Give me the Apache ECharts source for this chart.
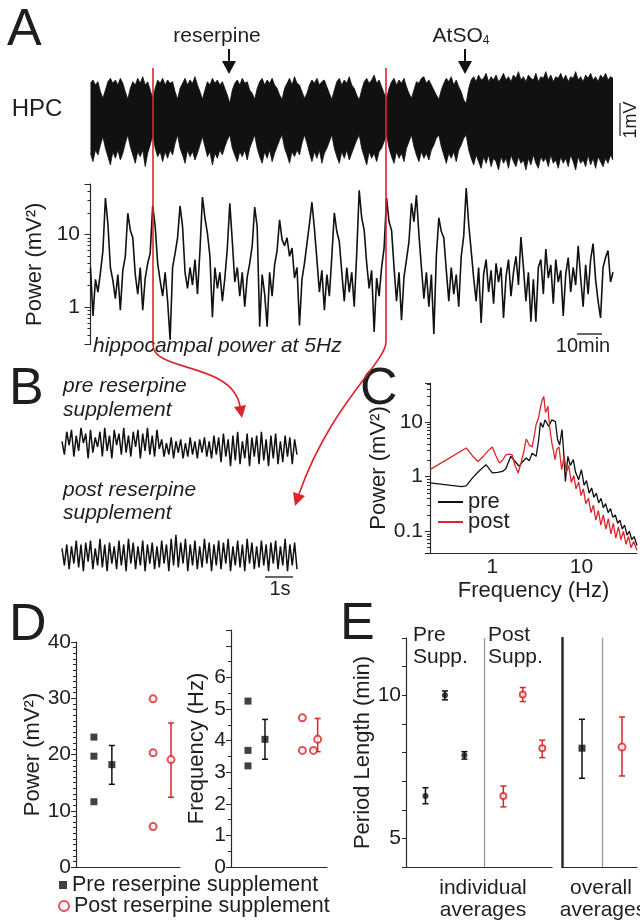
<!DOCTYPE html>
<html><head><meta charset="utf-8">
<script src="https://cdn.jsdelivr.net/npm/echarts@6/dist/echarts.min.js"></script>
<style>html,body{margin:0;padding:0;background:#fff}#c{width:640px;height:922px}</style>
</head><body><div id="c"></div>
<script>
// ---------------- DATA ----------------
// Panel A: HPC raw trace amplitude envelope (mV), one value per minute, 0..210 min
const hpcUpper = [
1.10,1.20,1.05,1.15,0.85,0.65,0.90,1.15,1.25,1.10,
1.20,1.05,1.25,1.10,0.85,0.62,0.95,1.15,1.05,1.25,
1.10,1.30,1.05,1.15,0.90,0.65,0.95,1.20,1.10,1.25,
1.05,1.20,1.10,1.15,0.85,0.62,0.95,1.10,1.25,1.05,
1.20,1.10,1.30,1.05,0.85,0.62,0.90,1.15,1.05,1.25,
1.10,1.20,1.05,1.15,0.95,0.75,0.50,0.90,1.10,1.20,
1.05,1.25,1.10,1.15,0.90,0.80,0.62,0.95,1.15,1.25,
1.05,1.20,1.10,1.25,1.05,0.95,0.75,0.62,0.95,1.10,
1.25,1.05,1.30,1.10,1.05,0.85,0.65,0.80,1.05,1.20,
1.10,1.25,1.05,1.15,1.20,1.00,0.80,0.62,0.90,1.15,
1.25,1.05,1.20,1.10,1.30,1.05,0.95,0.75,0.60,0.90,
1.15,1.25,1.10,1.20,1.35,1.10,1.20,1.00,0.80,0.65,
0.95,1.15,1.25,1.05,1.20,1.10,1.25,1.00,0.80,0.65,
0.90,1.15,1.10,1.25,1.30,1.10,1.20,1.05,0.90,0.75,
0.62,0.90,1.10,1.25,1.15,1.30,1.05,1.20,1.00,0.85,
0.60,0.50,0.95,1.20,1.30,1.15,1.35,1.20,1.25,1.40,
1.15,1.30,1.20,1.35,1.15,1.25,1.40,1.20,1.30,1.15,
1.35,1.25,1.45,1.20,1.30,1.15,1.35,1.25,1.20,1.40,
1.15,1.30,1.25,1.45,1.20,1.35,1.15,1.30,1.25,1.40,
1.20,1.35,1.15,1.30,1.25,1.45,1.20,1.30,1.15,1.35,
1.25,1.40,1.20,1.30,1.15,1.35,1.25,1.40,1.20,1.30,
1.25];
const hpcLower = [
-1.00,-1.25,-0.90,-1.05,-0.75,-0.50,-0.85,-1.10,-1.35,-0.95,
-1.15,-0.90,-1.20,-1.00,-0.70,-0.45,-0.80,-1.05,-1.30,-0.95,
-1.10,-0.90,-1.40,-1.00,-0.75,-0.45,-0.85,-1.10,-0.95,-1.25,
-0.95,-1.15,-0.90,-1.05,-0.70,-0.45,-0.85,-1.05,-1.30,-0.90,
-1.10,-0.95,-1.20,-1.00,-0.75,-0.50,-0.80,-1.10,-0.95,-1.35,
-1.00,-1.15,-0.90,-1.05,-0.80,-0.60,-0.45,-0.85,-1.05,-1.25,
-0.95,-1.10,-0.90,-1.20,-0.85,-0.65,-0.45,-0.85,-1.10,-1.30,
-0.95,-1.15,-0.90,-1.25,-1.00,-0.80,-0.60,-0.45,-0.85,-1.05,
-1.30,-0.95,-1.10,-0.90,-1.05,-0.70,-0.45,-0.70,-1.00,-1.25,
-0.95,-1.15,-0.90,-1.30,-1.00,-0.85,-0.65,-0.45,-0.85,-1.10,
-1.30,-0.95,-1.15,-0.90,-1.20,-1.00,-0.80,-0.60,-0.45,-0.85,
-1.10,-1.35,-0.95,-1.15,-1.00,-1.25,-0.95,-0.85,-0.65,-0.45,
-0.85,-1.10,-1.30,-0.95,-1.15,-1.00,-1.25,-0.85,-0.65,-0.45,
-0.80,-1.05,-1.25,-0.95,-1.15,-1.00,-1.20,-0.90,-0.75,-0.55,
-0.45,-0.80,-1.05,-1.30,-1.00,-1.15,-0.95,-1.25,-0.90,-0.75,
-0.55,-0.45,-0.90,-1.15,-1.35,-1.05,-1.25,-1.45,-1.10,-1.30,
-1.05,-1.40,-1.15,-1.25,-1.50,-1.10,-1.30,-1.15,-1.45,-1.05,
-1.25,-1.40,-1.10,-1.30,-1.20,-1.50,-1.15,-1.35,-1.05,-1.30,
-1.45,-1.10,-1.25,-1.15,-1.40,-1.05,-1.30,-1.20,-1.45,-1.10,
-1.30,-1.15,-1.40,-1.05,-1.25,-1.50,-1.10,-1.30,-1.20,-1.40,
-1.05,-1.35,-1.15,-1.45,-1.10,-1.25,-1.40,-1.15,-1.30,-1.05,
-1.20];
// Panel A: hippocampal power at 5 Hz (mV^2), one value per minute, 0..210 min
const power5Hz = [
3.5,0.75,2.4,1.6,3.0,6.0,32,14,3.5,2.3,
1.3,2.8,0.9,3.2,5.0,19.7,11.5,9.0,2.8,1.5,
3.5,0.9,2.5,4.0,5.5,25,13,4.0,2.3,1.4,
3.0,1.2,0.35,3.5,5.5,9.0,25,13,3.0,1.8,
3.5,2.0,4.5,1.5,6.0,33,17,10.4,5.0,0.72,
3.5,1.8,3.0,1.2,2.5,6.5,27,8.0,2.2,3.5,
1.4,3.0,1.0,2.6,4.0,7.0,24,12.7,0.53,2.8,
1.5,0.53,3.0,1.4,3.8,6.0,16,8.5,7.0,9.0,
5.0,6.5,2.5,3.5,0.55,2.4,4.0,7.5,14,28,
12,4.5,1.6,3.2,0.9,2.8,1.4,5.0,20,11,
8.0,3.0,1.2,3.5,1.6,3.0,1.0,5.5,41,17,
11.5,4.0,1.8,3.2,0.45,2.5,1.4,3.5,6.5,32,
15,11.5,3.5,1.2,3.0,0.65,2.6,4.5,8.0,27,
15,35,10,3.5,1.3,3.0,1.0,2.8,0.42,5.0,
17,11,9.0,3.2,1.2,3.5,1.5,2.8,1.0,5.0,
9.5,44,14,6.0,2.5,1.2,3.5,0.6,2.8,4.5,
1.6,3.2,1.1,4.0,2.2,3.5,0.7,2.6,4.5,1.4,
3.0,5.0,2.0,9.2,3.5,1.2,3.0,0.62,2.4,0.62,
3.5,4.5,1.5,6.3,2.5,3.8,1.1,4.5,2.2,3.2,
0.75,2.8,4.8,1.6,3.5,2.0,7.0,2.5,1.0,3.8,
1.5,4.5,7.5,2.4,1.2,0.7,3.5,4.8,6.0,2.2,
3.0];
// Panel B: example LFP traces (arbitrary units)
const tracePre = [
0.3,-0.4,0.8,0.1,0.9,-0.5,0.6,-0.2,1.0,0.2,0.7,-0.6,0.9,-0.3,0.5,0.0,0.8,-0.5,1.0,-0.2,
0.6,-0.6,0.9,0.1,0.7,-0.4,1.0,-0.3,0.6,-0.5,0.8,0.0,0.9,-0.6,0.7,-0.2,1.0,-0.4,0.6,-0.5,
0.9,-0.1,0.4,-0.5,0.2,-0.4,0.5,-0.6,0.3,-0.3,0.4,-0.6,0.2,-0.5,0.5,-0.4,0.3,-0.6,0.4,-0.3,
0.5,-0.5,0.3,-0.6,0.6,-0.4,0.5,-0.8,0.7,-0.5,0.4,-1.0,0.6,-0.7,0.8,-0.9,0.3,-0.6,0.7,-1.0,
0.5,-0.5,0.6,-0.9,0.8,-0.7,0.4,-1.0,0.6,-0.6,0.7,-0.9,0.3,-0.8,0.6,-0.5,0.5,-0.9,0.4,-0.4];
const tracePost = [
0.3,-0.6,0.5,-0.8,0.4,-0.5,0.7,-0.7,0.5,-0.9,0.6,-0.4,0.7,-0.8,0.3,-0.6,0.8,-0.7,0.5,-0.9,
0.6,-0.5,0.4,-0.8,0.7,-0.6,0.5,-0.9,0.8,-0.5,0.6,-0.8,0.4,-0.6,0.7,-0.9,0.5,-0.5,0.6,-0.8,
0.4,-0.7,0.7,-0.5,0.5,-0.9,0.8,-0.6,1.0,-0.7,0.6,-0.5,0.8,-0.9,0.5,-0.6,0.7,-0.8,0.4,-0.7,
0.8,-0.5,0.6,-0.9,0.5,-0.6,0.7,-0.8,0.6,-0.5,0.8,-0.9,0.4,-0.6,0.7,-0.7,0.5,-0.9,0.8,-0.5,
0.6,-0.8,0.4,-0.7,0.7,-0.6,0.5,-0.9,0.6,-0.5,0.7,-0.8,0.4,-0.6,0.8,-0.9,0.5,-0.6,0.6,-0.8];
// Panel C: power spectra
const specPreFreq = [0.2,0.45,0.51,0.6,0.72,0.85,1.0,1.15,1.3,1.42,1.61,1.8,2.0,2.2,2.4,2.6,2.8,3.1,3.3,3.47,3.7,3.9,4.1,4.3,4.5,4.65,4.85,5.1,5.4,5.7,6.05,6.3,6.6,7.05,7.5,8.1,8.6,9.3,10,10.7,11.4,12.2,13,13.8,14.7,15.6,16.6,17.6,18.7,19.9,21.2,22.5,24,25.5,27,28.7,30.5,32.5,34.5,36.7,39,42];
const specPrePow  = [0.77,0.66,0.68,0.95,1.3,1.66,1.17,1.2,1.25,1.4,2.36,1.9,1.55,1.9,2.2,1.95,2.7,2.36,4.5,9.8,8.0,11,9.5,8.3,9.0,11,10.4,10.2,4.8,3.8,7.3,3.0,0.82,2.36,1.6,2.05,1.2,0.88,1.35,0.7,0.85,0.5,0.62,0.42,0.5,0.33,0.4,0.27,0.32,0.22,0.26,0.18,0.2,0.14,0.16,0.11,0.13,0.085,0.1,0.07,0.08,0.055];
const specPostFreq = [0.2,0.51,0.6,0.69,0.8,0.9,1.0,1.1,1.2,1.3,1.42,1.55,1.67,1.8,1.95,2.1,2.25,2.4,2.6,2.8,2.95,3.1,3.3,3.5,3.65,3.78,3.95,4.1,4.2,4.4,4.65,4.85,5.05,5.3,5.6,6.0,6.4,6.8,7.2,7.7,8.2,8.7,9.3,9.9,10.5,11.2,12,12.8,13.6,14.5,15.5,16.5,17.6,18.8,20,21.4,22.8,24.3,26,27.7,29.6,31.6,33.7,36,38.5,42];
const specPostPow  = [1.35,3.35,2.4,1.9,2.4,3.0,3.5,2.4,1.78,2.0,2.5,2.6,2.5,1.6,1.17,1.8,2.8,4.9,3.8,3.5,5.5,9.0,12,20,26,29.5,15,17,19.5,8.0,4.2,3.0,2.05,3.2,3.5,1.35,2.4,1.2,1.6,0.78,1.05,0.6,0.8,0.45,0.6,0.32,0.4,0.22,0.3,0.16,0.24,0.13,0.2,0.11,0.17,0.09,0.14,0.075,0.12,0.07,0.1,0.058,0.08,0.05,0.065,0.045];
// Panel D: per-animal values, mean and error limits
const dPowerPre = [23.1, 19.7, 11.6];
const dPowerPost = [29.9, 20.3, 7.2];
const dPowerMean = [18.2, 19.1];
const dPowerLo = [14.7, 12.4];
const dPowerHi = [21.6, 25.6];
const dFreqPre = [5.25, 3.69, 3.2];
const dFreqPost = [4.72, 3.69, 3.69];
const dFreqMean = [4.04, 4.04];
const dFreqLo = [3.41, 3.65];
const dFreqHi = [4.67, 4.70];
// Panel E: period length (min)
const ePreMean = [6.48, 10.0, 7.90];
const ePreLo = [6.21, 9.84, 7.77];
const ePreHi = [6.77, 10.15, 8.03];
const ePostMean = [6.48, 10.03, 8.15];
const ePostLo = [6.10, 9.78, 7.82];
const ePostHi = [6.83, 10.27, 8.43];
const eOverallMean = [8.15, 8.19];
const eOverallLo = [7.10, 7.18];
const eOverallHi = [9.16, 9.24];
const legendNames = ['Pre reserpine supplement', 'Post reserpine supplement'];

// ---------------- LAYOUT / STYLE ----------------
const FONT = "'Liberation Sans', Arial, Helvetica, sans-serif";
const RED = '#d8262c', AX = '#2a2a2a', TXT = '#1e1e1e';
const posD1 = {pre: 1, preMean: 2, post: [4.3, 4.3, 4.3], postMean: 5.3};
const posD2 = {pre: 1, preMean: 2, post: [4.2, 4.2, 4.85], postMean: 5.1};
const posE = {pre: [1, 2, 3], post: [5, 6, 7], sep: 4};
const posE2 = {pre: 1, post: 3, sep: 2};

function logFmt(v){ const l = Math.log10(v); return Math.abs(l - Math.round(l)) < 1e-6 ? String(+v.toPrecision(3)) : ''; }
function errSeries(xi, data, color, cap){
  return {type:'custom', xAxisIndex:xi, yAxisIndex:xi, data:data, silent:true, z:3,
    encode:{x:0, y:[1,2]},
    renderItem: function(params, api){
      const x = api.value(0), lo = api.value(1), hi = api.value(2);
      const a = api.coord([x, hi]), b = api.coord([x, lo]);
      const st = {stroke:color, lineWidth:1.5};
      return {type:'group', children:[
        {type:'line', shape:{x1:a[0], y1:a[1], x2:b[0], y2:b[1]}, style:st},
        {type:'line', shape:{x1:a[0]-cap, y1:a[1], x2:a[0]+cap, y2:a[1]}, style:st},
        {type:'line', shape:{x1:b[0]-cap, y1:b[1], x2:b[0]+cap, y2:b[1]}, style:st}]};
    }};
}
const lbl = (size, margin) => ({fontSize:size, color:TXT, fontFamily:FONT, margin:margin});
const nameStyle = {fontSize:22, color:TXT, fontFamily:FONT};
const axLine = w => ({show:true, lineStyle:{color:AX, width:w||1.2}});
const noSplit = {show:false};

const xAxes = [
  {gridIndex:0, type:'value', min:-1, max:210, show:false},
  {gridIndex:1, type:'value', min:-1, max:210, show:false},
  {gridIndex:2, type:'category', boundaryGap:false, show:false, data:tracePre.map((v,i)=>i)},
  {gridIndex:3, type:'category', boundaryGap:false, show:false, data:tracePost.map((v,i)=>i)},
  {gridIndex:4, type:'log', logBase:10, min:0.2, max:42, axisLine:axLine(), axisTick:{show:false},
   splitLine:noSplit, axisLabel:Object.assign(lbl(21,4), {formatter:logFmt}),
   name:'Frequency (Hz)', nameLocation:'middle', nameGap:27, nameTextStyle:nameStyle},
  {gridIndex:5, type:'value', min:0, max:5.8, axisLine:axLine(), axisTick:{show:false}, axisLabel:{show:false}, splitLine:noSplit},
  {gridIndex:6, type:'value', min:0, max:5.65, axisLine:axLine(), axisTick:{show:false}, axisLabel:{show:false}, splitLine:noSplit},
  {gridIndex:7, type:'value', min:0, max:7.5, axisLine:axLine(), axisTick:{show:false}, axisLabel:{show:false}, splitLine:noSplit},
  {gridIndex:8, type:'value', min:0, max:3.75, axisLine:axLine(), axisTick:{show:false}, axisLabel:{show:false}, splitLine:noSplit}
];
const yAxes = [
  {gridIndex:0, type:'value', min:-1.6, max:1.5, show:false},
  {gridIndex:1, type:'log', logBase:10, min:0.3, max:50, axisLine:axLine(),
   axisTick:{show:true, length:6, lineStyle:{color:AX}},
   minorTick:{show:true, splitNumber:9, length:3, lineStyle:{color:AX}},
   splitLine:noSplit, minorSplitLine:noSplit,
   axisLabel:Object.assign(lbl(21,8), {formatter:logFmt}),
   name:'Power (mV²)', nameLocation:'middle', nameRotate:90, nameGap:40, nameTextStyle:nameStyle},
  {gridIndex:2, type:'value', min:-1.1, max:1.1, show:false},
  {gridIndex:3, type:'value', min:-1.1, max:1.1, show:false},
  {gridIndex:4, type:'log', logBase:10, min:0.04, max:52, axisLine:axLine(),
   axisTick:{show:true, length:5, lineStyle:{color:AX}},
   minorTick:{show:true, splitNumber:9, length:3, lineStyle:{color:AX}},
   splitLine:noSplit, minorSplitLine:noSplit,
   axisLabel:Object.assign(lbl(21,7), {formatter:logFmt}),
   name:'Power (mV²)', nameLocation:'middle', nameRotate:90, nameGap:29, nameTextStyle:nameStyle},
  {gridIndex:5, type:'value', min:0, max:40, interval:10, axisLine:axLine(),
   axisTick:{show:true, length:5, lineStyle:{color:AX}},
   minorTick:{show:true, splitNumber:10, length:3, lineStyle:{color:AX}},
   splitLine:noSplit, minorSplitLine:noSplit, axisLabel:lbl(21,5),
   name:'Power (mV²)', nameLocation:'middle', nameRotate:90, nameGap:32, nameTextStyle:nameStyle},
  {gridIndex:6, type:'value', min:0, max:7.5, interval:1, axisLine:axLine(),
   axisTick:{show:true, length:5, lineStyle:{color:AX}},
   minorTick:{show:true, splitNumber:2, length:3, lineStyle:{color:AX}},
   splitLine:noSplit, minorSplitLine:noSplit,
   axisLabel:Object.assign(lbl(21,5), {formatter: v => v <= 6 ? String(v) : ''}),
   name:'Frequency (Hz)', nameLocation:'middle', nameRotate:90, nameGap:23, nameTextStyle:nameStyle},
  {gridIndex:7, type:'value', min:4, max:12, interval:1, axisLine:axLine(),
   axisTick:{show:true, length:4, lineStyle:{color:AX}},
   splitLine:noSplit,
   axisLabel:Object.assign(lbl(21,5), {formatter: v => (v === 5 || v === 10) ? String(v) : ''}),
   name:'Period Length (min)', nameLocation:'middle', nameRotate:90, nameGap:32, nameTextStyle:nameStyle},
  {gridIndex:8, type:'value', min:4, max:12, axisLine:axLine(2.5), axisTick:{show:false}, axisLabel:{show:false}, splitLine:noSplit}
];

const blackLine = w => ({color:'#111', width:w});
const series = [
  {type:'line', xAxisIndex:0, yAxisIndex:0, data:hpcUpper.map((v,i)=>[i,v]), symbol:'none', silent:true,
   lineStyle:blackLine(0.8), areaStyle:{color:'#111', opacity:1}},
  {type:'line', xAxisIndex:0, yAxisIndex:0, data:hpcLower.map((v,i)=>[i,v]), symbol:'none', silent:true,
   lineStyle:blackLine(0.8), areaStyle:{color:'#111', opacity:1}},
  {type:'line', xAxisIndex:1, yAxisIndex:1, data:power5Hz.map((v,i)=>[i,v]), symbol:'none', silent:true, lineStyle:blackLine(1.6)},
  {type:'line', xAxisIndex:2, yAxisIndex:2, data:tracePre, symbol:'none', silent:true, lineStyle:blackLine(1.5)},
  {type:'line', xAxisIndex:3, yAxisIndex:3, data:tracePost, symbol:'none', silent:true, lineStyle:blackLine(1.5)},
  {name:'pre', type:'line', xAxisIndex:4, yAxisIndex:4, data:specPreFreq.map((f,i)=>[f,specPrePow[i]]), symbol:'none', silent:true,
   color:'#111', lineStyle:blackLine(1.3), z:2},
  {name:'post', type:'line', xAxisIndex:4, yAxisIndex:4, data:specPostFreq.map((f,i)=>[f,specPostPow[i]]), symbol:'none', silent:true,
   color:RED, lineStyle:{color:RED, width:1.3}, z:3},
  // D: power
  {name:legendNames[0], type:'scatter', xAxisIndex:5, yAxisIndex:5, symbol:'rect', symbolSize:7, color:'#111', silent:true,
   data:dPowerPre.map(v=>[posD1.pre, v]).concat([[posD1.preMean, dPowerMean[0]]]), z:4},
  errSeries(5, [[posD1.preMean, dPowerLo[0], dPowerHi[0]]], '#111', 3),
  {name:legendNames[1], type:'scatter', xAxisIndex:5, yAxisIndex:5, symbol:'emptyCircle', symbolSize:7, color:RED, silent:true,
   itemStyle:{color:RED, borderColor:RED, borderWidth:1.5},
   data:dPowerPost.map((v,i)=>[posD1.post[i], v]).concat([[posD1.postMean, dPowerMean[1]]]), z:4},
  errSeries(5, [[posD1.postMean, dPowerLo[1], dPowerHi[1]]], RED, 3),
  // D: frequency
  {name:legendNames[0], type:'scatter', xAxisIndex:6, yAxisIndex:6, symbol:'rect', symbolSize:7, color:'#111', silent:true,
   data:dFreqPre.map(v=>[posD2.pre, v]).concat([[posD2.preMean, dFreqMean[0]]]), z:4},
  errSeries(6, [[posD2.preMean, dFreqLo[0], dFreqHi[0]]], '#111', 3),
  {name:legendNames[1], type:'scatter', xAxisIndex:6, yAxisIndex:6, symbol:'emptyCircle', symbolSize:7, color:RED, silent:true,
   itemStyle:{color:RED, borderColor:RED, borderWidth:1.5},
   data:dFreqPost.map((v,i)=>[posD2.post[i], v]).concat([[posD2.postMean, dFreqMean[1]]]), z:4},
  errSeries(6, [[posD2.postMean, dFreqLo[1], dFreqHi[1]]], RED, 3),
  // E: individual averages
  errSeries(7, ePreMean.map((v,i)=>[posE.pre[i], ePreLo[i], ePreHi[i]]), '#111', 3),
  {type:'scatter', xAxisIndex:7, yAxisIndex:7, symbol:'circle', symbolSize:6, color:'#111', silent:true, z:4,
   data:ePreMean.map((v,i)=>[posE.pre[i], v]),
   markLine:{silent:true, symbol:'none', label:{show:false}, lineStyle:{color:'#9a9a9a', width:1.3, type:'solid'}, data:[{xAxis:posE.sep}]}},
  errSeries(7, ePostMean.map((v,i)=>[posE.post[i], ePostLo[i], ePostHi[i]]), RED, 3),
  {type:'scatter', xAxisIndex:7, yAxisIndex:7, symbol:'emptyCircle', symbolSize:6, color:RED, silent:true, z:4,
   itemStyle:{color:RED, borderColor:RED, borderWidth:1.5},
   data:ePostMean.map((v,i)=>[posE.post[i], v])},
  // E: overall averages
  errSeries(8, [[posE2.pre, eOverallLo[0], eOverallHi[0]]], '#111', 3),
  {type:'scatter', xAxisIndex:8, yAxisIndex:8, symbol:'rect', symbolSize:7, color:'#111', silent:true, z:4,
   data:[[posE2.pre, eOverallMean[0]]],
   markLine:{silent:true, symbol:'none', label:{show:false}, lineStyle:{color:'#9a9a9a', width:1.3, type:'solid'}, data:[{xAxis:posE2.sep}]}},
  errSeries(8, [[posE2.post, eOverallLo[1], eOverallHi[1]]], RED, 3),
  {type:'scatter', xAxisIndex:8, yAxisIndex:8, symbol:'emptyCircle', symbolSize:7, color:RED, silent:true, z:4,
   itemStyle:{color:RED, borderColor:RED, borderWidth:1.5},
   data:[[posE2.post, eOverallMean[1]]]}
];

function T(x, y, text, size, extra){
  return {type:'text', x:x, y:y, z:100, silent:true,
    style:Object.assign({text:text, fontSize:size, fontFamily:FONT, fill:TXT, align:'left', verticalAlign:'middle'}, extra||{})};
}
function L(x1,y1,x2,y2,color,w){ return {type:'line', z:100, silent:true, shape:{x1,y1,x2,y2}, style:{stroke:color, lineWidth:w}}; }
function P(points, color){ return {type:'polygon', z:100, silent:true, shape:{points:points}, style:{fill:color}}; }
function B(x1,y1,cpx1,cpy1,cpx2,cpy2,x2,y2,color,w){
  return {type:'bezierCurve', z:100, silent:true, shape:{x1,y1,cpx1,cpy1,cpx2,cpy2,x2,y2}, style:{stroke:color, fill:null, lineWidth:w}};
}

const graphics = [
  // panel letters
  T(7, 31, 'A', 52), T(9, 390, 'B', 52), T(360, 390, 'C', 52), T(9, 626, 'D', 52), T(340, 625, 'E', 52),
  // Panel A annotations
  T(217, 36, 'reserpine', 21, {align:'center'}),
  {type:'text', x:461, y:36, z:100, silent:true, style:{text:'{a|AtSO}{s|4}', align:'center', verticalAlign:'middle',
     rich:{a:{fontSize:21, fontFamily:FONT, fill:TXT}, s:{fontSize:12, fontFamily:FONT, fill:TXT, padding:[10,0,0,0]}}}},
  L(229, 49, 229, 64, '#111', 2), P([[222,61],[236,61],[229,74]], '#111'),
  L(465, 49, 465, 64, '#111', 2), P([[458,61],[472,61],[465,74]], '#111'),
  T(37, 109, 'HPC', 24, {align:'center'}),
  L(620, 103, 620, 136, '#333', 1.3),
  {type:'text', x:631, y:120, rotation:Math.PI/2, z:100, silent:true,
   style:{text:'1mV', fontSize:18, fontFamily:FONT, fill:TXT, align:'center', verticalAlign:'middle'}},
  T(93, 346, 'hippocampal power at 5Hz', 21, {fontStyle:'italic'}),
  L(577, 334, 602, 334, '#333', 1.5),
  T(583, 346, '10min', 20, {align:'center'}),
  // red connectors
  L(153, 68, 153, 345, RED, 1.6),
  B(153, 345, 153, 372, 232, 362, 240, 406, RED, 1.6),
  P([[234,407],[246,405],[242,418]], RED),
  L(386, 68, 386, 342, RED, 1.6),
  B(386, 342, 386, 362, 330, 405, 299, 494, RED, 1.6),
  P([[305,496],[293,492],[295,506]], RED),
  // Panel B labels
  T(63, 386, 'pre reserpine', 21, {fontStyle:'italic'}),
  T(63, 410, 'supplement', 21, {fontStyle:'italic'}),
  T(63, 490, 'post reserpine', 21, {fontStyle:'italic'}),
  T(63, 513, 'supplement', 21, {fontStyle:'italic'}),
  L(265, 577, 293, 577, '#333', 1.5),
  T(280, 589, '1s', 20, {align:'center'}),
  // Panel E labels
  T(413, 635, 'Pre', 21), T(413, 657, 'Supp.', 21),
  T(488, 635, 'Post', 21), T(488, 657, 'Supp.', 21),
  T(483, 888, 'individual', 21, {align:'center'}), T(483, 910, 'averages', 21, {align:'center'}),
  T(601, 888, 'overall', 21, {align:'center'}), T(603, 910, 'averages', 21, {align:'center'})
];

const legendText = {fontSize:21.5, color:TXT, fontFamily:FONT};
const option = {
  animation:false,
  backgroundColor:'#fff',
  textStyle:{fontFamily:FONT},
  grid:[
    {left:88, top:70, width:525, height:103.3},
    {left:88, top:184, width:525, height:160.6},
    {left:62, top:426, width:235, height:42},
    {left:62, top:533, width:235, height:42},
    {left:430, top:383, width:209, height:170},
    {left:76, top:642, width:104, height:225},
    {left:231, top:630, width:96, height:237},
    {left:406, top:638, width:146, height:229},
    {left:562, top:638, width:75, height:229}
  ],
  xAxis:xAxes, yAxis:yAxes,
  legend:[
    {data:[{name:legendNames[0], icon:'rect'}], left:59, top:874, itemWidth:8, itemHeight:8, selectedMode:false, textStyle:legendText, padding:0},
    {data:[{name:legendNames[1], icon:'emptyCircle'}], left:58, top:895, itemWidth:10, itemHeight:10, selectedMode:false, textStyle:legendText, padding:0},
    {data:[{name:'pre', icon:'rect'}], left:438, top:491, itemWidth:25, itemHeight:2, selectedMode:false,
     textStyle:{fontSize:22, color:TXT, fontFamily:FONT}, padding:0},
    {data:[{name:'post', icon:'rect'}], left:438, top:511, itemWidth:25, itemHeight:2, selectedMode:false,
     textStyle:{fontSize:22, color:TXT, fontFamily:FONT}, padding:0}
  ],
  graphic:{elements:graphics},
  series:series
};
const chart = echarts.init(document.getElementById('c'), null, {renderer:'canvas'});
chart.setOption(option);
</script></body></html>
